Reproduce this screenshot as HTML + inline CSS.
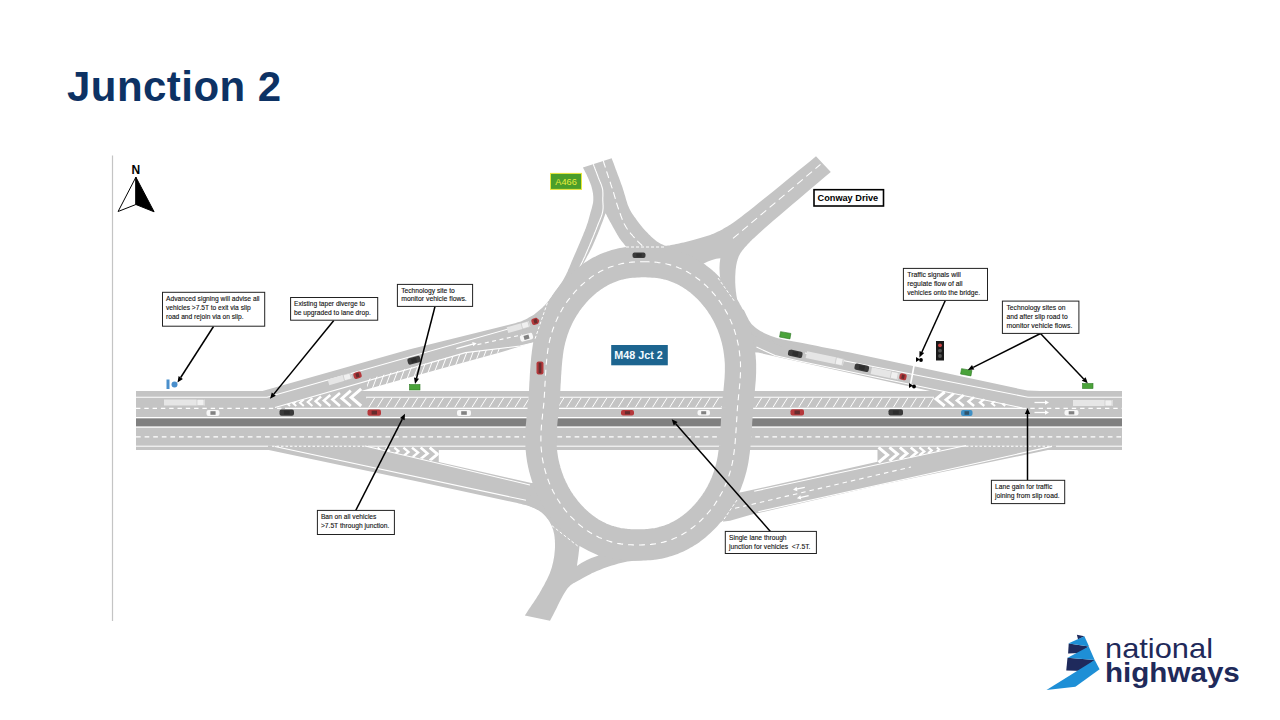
<!DOCTYPE html>
<html><head><meta charset="utf-8"><style>
html,body{margin:0;padding:0;background:#fff;}
body{width:1280px;height:720px;overflow:hidden;position:relative;font-family:"Liberation Sans",sans-serif;}
svg{position:absolute;left:0;top:0;font-family:"Liberation Sans",sans-serif;}
</style></head><body>
<svg width="1280" height="720" viewBox="0 0 1280 720">
<defs><clipPath id="c1"><path d="M366,397.6 H934 V407.6 H366Z"/></clipPath>
<clipPath id="cg1"><path d="M275,407.5 L366,381.2 L366,407.6Z"/></clipPath>
<clipPath id="cg2"><path d="M934,387.4 L1022.5,407.6 L934,407.6Z"/></clipPath>
<clipPath id="cg3"><path d="M365,446.8 L438.75,446.8 L438.75,462.2Z"/></clipPath>
<clipPath id="cg4"><path d="M877.3,446.8 L966,446.8 L877.3,464Z"/></clipPath>
<clipPath id="c3"><path d="M367,390.4 L367,379.3 L465.5,352.6 L502,348 L502,351.5Z"/></clipPath></defs>
<text x="67" y="100.5" font-weight="bold" font-size="42" fill="#0d3264" letter-spacing="0.45">Junction 2</text>
<line x1="112.5" y1="155.5" x2="112.5" y2="621" stroke="#c4c4c4" stroke-width="1.2"/>
<text x="135.8" y="173.8" font-weight="bold" font-size="12" text-anchor="middle" fill="#000">N</text>
<path d="M135.9,177.2 L118.1,211.5 L135.9,204.5Z" fill="#fff" stroke="#000" stroke-width="1"/>
<path d="M135.9,177.2 L154.1,211.8 L135.9,204.5Z" fill="#000" stroke="#000" stroke-width="1"/>
<rect x="136" y="391" width="986" height="59" fill="#c4c4c4"/><rect x="136" y="418.2" width="986" height="7.9" fill="#808080"/><path d="M262.5,391 L410,349.3 L510,324.5  L510.0,324.5 L511.0,324.2 L512.0,323.9 L513.0,323.7 L514.0,323.4 L515.0,323.2 L516.0,322.9 L517.0,322.6 L518.0,322.3 L519.0,322.0 L520.0,321.7 L521.0,321.4 L522.0,321.0 L523.0,320.6 L524.0,320.1 L524.9,319.7 L525.9,319.2 L526.9,318.7 L527.8,318.2 L528.8,317.6 L529.8,317.1 L530.7,316.6 L531.7,316.0 L532.6,315.5 L533.6,315.0 L552,318 L552,345 L533,342.5 L501.7,352 L400,380 L361,391Z" fill="#c4c4c4"/><path d="M268.75,450 L420,481.9 L515,502.5 L515.0,502.5 L516.3,502.8 L517.5,503.1 L518.8,503.4 L520.1,503.7 L521.4,504.0 L522.7,504.4 L523.9,504.7 L525.2,505.0 L526.4,505.3 L527.7,505.7 L528.8,506.1 L530.0,506.5 L531.0,506.9 L532.0,507.3 L533.0,507.7 L533.9,508.1 L534.8,508.5 L535.8,508.9 L536.7,509.4 L537.6,509.9 L538.5,510.3 L539.3,510.9 L540.2,511.4 L541.0,512.0 L541.8,512.6 L542.6,513.3 L543.4,514.0 L544.2,514.7 L544.9,515.5 L545.6,516.3 L546.4,517.1 L547.1,517.9 L547.8,518.7 L548.5,519.5 L549.3,520.2 L550.0,521.0 L560,480 L531.25,483.1 L438.75,461.9 L438.75,450Z" fill="#c4c4c4"/><path d="M735,305 L743.8,310.0 L744.5,311.3 L745.1,312.6 L745.8,313.9 L746.4,315.2 L747.0,316.5 L747.7,317.8 L748.3,319.1 L749.0,320.4 L749.8,321.6 L750.6,322.8 L751.5,323.9 L752.5,325.0 L753.7,326.1 L755.0,327.2 L756.3,328.3 L757.7,329.3 L759.2,330.2 L760.8,331.2 L762.4,332.1 L764.0,332.9 L765.7,333.7 L767.4,334.5 L769.2,335.3 L771.0,336.0 L773.3,336.8 L775.6,337.6 L778.0,338.2 L780.5,338.8 L783.1,339.4 L785.7,339.9 L788.4,340.4 L791.2,340.9 L793.9,341.4 L796.8,341.9 L799.6,342.4 L802.5,343.0 L806.1,343.8 L809.8,344.5 L813.7,345.3 L817.6,346.1 L821.6,346.9 L825.6,347.7 L829.7,348.5 L833.8,349.3 L837.9,350.1 L842.0,350.9 L846.0,351.7 L850.0,352.5 L1027.5,390.6 L1040,391 L930,391 L758,352.5 L742,352Z" fill="#c4c4c4"/><path d="M725,495 L742.5,492 L877.5,461.8 L877.5,450 L1048,450 L880,485 L751.7,514.6 Q740,518 730,520.8 L720,522Z" fill="#c4c4c4"/><line x1="136.0" y1="417.6" x2="1122.0" y2="417.6" stroke="#ffffff" stroke-width="1.1"/><line x1="136.0" y1="427.2" x2="1122.0" y2="427.2" stroke="#ffffff" stroke-width="1.1"/><line x1="136.0" y1="446.2" x2="1122.0" y2="446.2" stroke="#ffffff" stroke-width="1.0"/><line x1="136.0" y1="436.8" x2="1122.0" y2="436.8" stroke="#ffffff" stroke-width="1.3" stroke-dasharray="4.7,3.9"/><line x1="136.0" y1="397.2" x2="267.0" y2="397.2" stroke="#ffffff" stroke-width="1.1"/><line x1="366.0" y1="397.2" x2="934.0" y2="397.2" stroke="#ffffff" stroke-width="1.1"/><line x1="1028.0" y1="397.2" x2="1122.0" y2="397.2" stroke="#ffffff" stroke-width="1.1"/><line x1="136.0" y1="408.4" x2="285.0" y2="408.4" stroke="#ffffff" stroke-width="1.2" stroke-dasharray="4.4,3.9"/><line x1="285.0" y1="408.4" x2="1022.0" y2="408.4" stroke="#ffffff" stroke-width="1.1"/><line x1="1022.0" y1="408.4" x2="1122.0" y2="408.4" stroke="#ffffff" stroke-width="1.2" stroke-dasharray="4.4,3.9"/><rect x="268" y="445.4" width="100" height="1.6" fill="#c4c4c4"/><line x1="272.0" y1="446.2" x2="366.0" y2="446.2" stroke="#ffffff" stroke-width="1.1" stroke-dasharray="2.5,2"/><rect x="966" y="445.4" width="90" height="1.6" fill="#c4c4c4"/><line x1="966.0" y1="446.2" x2="1052.0" y2="446.2" stroke="#ffffff" stroke-width="1.1" stroke-dasharray="2.5,2"/><g clip-path="url(#c1)"><line x1="360.0" y1="407.6" x2="366.0" y2="398.0" stroke="#ffffff" stroke-width="1.0"/><line x1="368.6" y1="407.6" x2="374.6" y2="398.0" stroke="#ffffff" stroke-width="1.0"/><line x1="377.2" y1="407.6" x2="383.2" y2="398.0" stroke="#ffffff" stroke-width="1.0"/><line x1="385.8" y1="407.6" x2="391.8" y2="398.0" stroke="#ffffff" stroke-width="1.0"/><line x1="394.4" y1="407.6" x2="400.4" y2="398.0" stroke="#ffffff" stroke-width="1.0"/><line x1="403.0" y1="407.6" x2="409.0" y2="398.0" stroke="#ffffff" stroke-width="1.0"/><line x1="411.6" y1="407.6" x2="417.6" y2="398.0" stroke="#ffffff" stroke-width="1.0"/><line x1="420.2" y1="407.6" x2="426.2" y2="398.0" stroke="#ffffff" stroke-width="1.0"/><line x1="428.8" y1="407.6" x2="434.8" y2="398.0" stroke="#ffffff" stroke-width="1.0"/><line x1="437.4" y1="407.6" x2="443.4" y2="398.0" stroke="#ffffff" stroke-width="1.0"/><line x1="446.0" y1="407.6" x2="452.0" y2="398.0" stroke="#ffffff" stroke-width="1.0"/><line x1="454.6" y1="407.6" x2="460.6" y2="398.0" stroke="#ffffff" stroke-width="1.0"/><line x1="463.2" y1="407.6" x2="469.2" y2="398.0" stroke="#ffffff" stroke-width="1.0"/><line x1="471.8" y1="407.6" x2="477.8" y2="398.0" stroke="#ffffff" stroke-width="1.0"/><line x1="480.4" y1="407.6" x2="486.4" y2="398.0" stroke="#ffffff" stroke-width="1.0"/><line x1="489.0" y1="407.6" x2="495.0" y2="398.0" stroke="#ffffff" stroke-width="1.0"/><line x1="497.6" y1="407.6" x2="503.6" y2="398.0" stroke="#ffffff" stroke-width="1.0"/><line x1="506.2" y1="407.6" x2="512.2" y2="398.0" stroke="#ffffff" stroke-width="1.0"/><line x1="514.8" y1="407.6" x2="520.8" y2="398.0" stroke="#ffffff" stroke-width="1.0"/><line x1="523.4" y1="407.6" x2="529.4" y2="398.0" stroke="#ffffff" stroke-width="1.0"/><line x1="532.0" y1="407.6" x2="538.0" y2="398.0" stroke="#ffffff" stroke-width="1.0"/><line x1="540.6" y1="407.6" x2="546.6" y2="398.0" stroke="#ffffff" stroke-width="1.0"/><line x1="549.2" y1="407.6" x2="555.2" y2="398.0" stroke="#ffffff" stroke-width="1.0"/><line x1="557.8" y1="407.6" x2="563.8" y2="398.0" stroke="#ffffff" stroke-width="1.0"/><line x1="566.4" y1="407.6" x2="572.4" y2="398.0" stroke="#ffffff" stroke-width="1.0"/><line x1="575.0" y1="407.6" x2="581.0" y2="398.0" stroke="#ffffff" stroke-width="1.0"/><line x1="583.6" y1="407.6" x2="589.6" y2="398.0" stroke="#ffffff" stroke-width="1.0"/><line x1="592.2" y1="407.6" x2="598.2" y2="398.0" stroke="#ffffff" stroke-width="1.0"/><line x1="600.8" y1="407.6" x2="606.8" y2="398.0" stroke="#ffffff" stroke-width="1.0"/><line x1="609.4" y1="407.6" x2="615.4" y2="398.0" stroke="#ffffff" stroke-width="1.0"/><line x1="618.0" y1="407.6" x2="624.0" y2="398.0" stroke="#ffffff" stroke-width="1.0"/><line x1="626.6" y1="407.6" x2="632.6" y2="398.0" stroke="#ffffff" stroke-width="1.0"/><line x1="635.2" y1="407.6" x2="641.2" y2="398.0" stroke="#ffffff" stroke-width="1.0"/><line x1="643.8" y1="407.6" x2="649.8" y2="398.0" stroke="#ffffff" stroke-width="1.0"/><line x1="652.4" y1="407.6" x2="658.4" y2="398.0" stroke="#ffffff" stroke-width="1.0"/><line x1="661.0" y1="407.6" x2="667.0" y2="398.0" stroke="#ffffff" stroke-width="1.0"/><line x1="669.6" y1="407.6" x2="675.6" y2="398.0" stroke="#ffffff" stroke-width="1.0"/><line x1="678.2" y1="407.6" x2="684.2" y2="398.0" stroke="#ffffff" stroke-width="1.0"/><line x1="686.8" y1="407.6" x2="692.8" y2="398.0" stroke="#ffffff" stroke-width="1.0"/><line x1="695.4" y1="407.6" x2="701.4" y2="398.0" stroke="#ffffff" stroke-width="1.0"/><line x1="704.0" y1="407.6" x2="710.0" y2="398.0" stroke="#ffffff" stroke-width="1.0"/><line x1="712.6" y1="407.6" x2="718.6" y2="398.0" stroke="#ffffff" stroke-width="1.0"/><line x1="721.2" y1="407.6" x2="727.2" y2="398.0" stroke="#ffffff" stroke-width="1.0"/><line x1="729.8" y1="407.6" x2="735.8" y2="398.0" stroke="#ffffff" stroke-width="1.0"/><line x1="738.4" y1="407.6" x2="744.4" y2="398.0" stroke="#ffffff" stroke-width="1.0"/><line x1="747.0" y1="407.6" x2="753.0" y2="398.0" stroke="#ffffff" stroke-width="1.0"/><line x1="755.6" y1="407.6" x2="761.6" y2="398.0" stroke="#ffffff" stroke-width="1.0"/><line x1="764.2" y1="407.6" x2="770.2" y2="398.0" stroke="#ffffff" stroke-width="1.0"/><line x1="772.8" y1="407.6" x2="778.8" y2="398.0" stroke="#ffffff" stroke-width="1.0"/><line x1="781.4" y1="407.6" x2="787.4" y2="398.0" stroke="#ffffff" stroke-width="1.0"/><line x1="790.0" y1="407.6" x2="796.0" y2="398.0" stroke="#ffffff" stroke-width="1.0"/><line x1="798.6" y1="407.6" x2="804.6" y2="398.0" stroke="#ffffff" stroke-width="1.0"/><line x1="807.2" y1="407.6" x2="813.2" y2="398.0" stroke="#ffffff" stroke-width="1.0"/><line x1="815.8" y1="407.6" x2="821.8" y2="398.0" stroke="#ffffff" stroke-width="1.0"/><line x1="824.4" y1="407.6" x2="830.4" y2="398.0" stroke="#ffffff" stroke-width="1.0"/><line x1="833.0" y1="407.6" x2="839.0" y2="398.0" stroke="#ffffff" stroke-width="1.0"/><line x1="841.6" y1="407.6" x2="847.6" y2="398.0" stroke="#ffffff" stroke-width="1.0"/><line x1="850.2" y1="407.6" x2="856.2" y2="398.0" stroke="#ffffff" stroke-width="1.0"/><line x1="858.8" y1="407.6" x2="864.8" y2="398.0" stroke="#ffffff" stroke-width="1.0"/><line x1="867.4" y1="407.6" x2="873.4" y2="398.0" stroke="#ffffff" stroke-width="1.0"/><line x1="876.0" y1="407.6" x2="882.0" y2="398.0" stroke="#ffffff" stroke-width="1.0"/><line x1="884.6" y1="407.6" x2="890.6" y2="398.0" stroke="#ffffff" stroke-width="1.0"/><line x1="893.2" y1="407.6" x2="899.2" y2="398.0" stroke="#ffffff" stroke-width="1.0"/><line x1="901.8" y1="407.6" x2="907.8" y2="398.0" stroke="#ffffff" stroke-width="1.0"/><line x1="910.4" y1="407.6" x2="916.4" y2="398.0" stroke="#ffffff" stroke-width="1.0"/><line x1="919.0" y1="407.6" x2="925.0" y2="398.0" stroke="#ffffff" stroke-width="1.0"/><line x1="927.6" y1="407.6" x2="933.6" y2="398.0" stroke="#ffffff" stroke-width="1.0"/><line x1="936.2" y1="407.6" x2="942.2" y2="398.0" stroke="#ffffff" stroke-width="1.0"/></g><line x1="267.0" y1="397.2" x2="517.0" y2="326.5" stroke="#ffffff" stroke-width="1.1"/><line x1="273.0" y1="395.8" x2="515.0" y2="327.5" stroke="#ffffff" stroke-width="0.01"/><path d="M275,407.5 L465.5,352.6 L520,346 L533,343" fill="none" stroke="#ffffff" stroke-width="1.1"/><line x1="477.5" y1="344.6" x2="522.0" y2="334.8" stroke="#ffffff" stroke-width="1.1" stroke-dasharray="4,3.5"/><line x1="361.0" y1="391.0" x2="533.0" y2="342.5" stroke="#ffffff" stroke-width="0"/><g clip-path="url(#c3)"><line x1="340.0" y1="392.0" x2="358.0" y2="345.0" stroke="#ffffff" stroke-width="1.0"/><line x1="346.2" y1="392.0" x2="364.2" y2="345.0" stroke="#ffffff" stroke-width="1.0"/><line x1="352.4" y1="392.0" x2="370.4" y2="345.0" stroke="#ffffff" stroke-width="1.0"/><line x1="358.6" y1="392.0" x2="376.6" y2="345.0" stroke="#ffffff" stroke-width="1.0"/><line x1="364.8" y1="392.0" x2="382.8" y2="345.0" stroke="#ffffff" stroke-width="1.0"/><line x1="371.0" y1="392.0" x2="389.0" y2="345.0" stroke="#ffffff" stroke-width="1.0"/><line x1="377.2" y1="392.0" x2="395.2" y2="345.0" stroke="#ffffff" stroke-width="1.0"/><line x1="383.4" y1="392.0" x2="401.4" y2="345.0" stroke="#ffffff" stroke-width="1.0"/><line x1="389.6" y1="392.0" x2="407.6" y2="345.0" stroke="#ffffff" stroke-width="1.0"/><line x1="395.8" y1="392.0" x2="413.8" y2="345.0" stroke="#ffffff" stroke-width="1.0"/><line x1="402.0" y1="392.0" x2="420.0" y2="345.0" stroke="#ffffff" stroke-width="1.0"/><line x1="408.2" y1="392.0" x2="426.2" y2="345.0" stroke="#ffffff" stroke-width="1.0"/><line x1="414.4" y1="392.0" x2="432.4" y2="345.0" stroke="#ffffff" stroke-width="1.0"/><line x1="420.6" y1="392.0" x2="438.6" y2="345.0" stroke="#ffffff" stroke-width="1.0"/><line x1="426.8" y1="392.0" x2="444.8" y2="345.0" stroke="#ffffff" stroke-width="1.0"/><line x1="433.0" y1="392.0" x2="451.0" y2="345.0" stroke="#ffffff" stroke-width="1.0"/><line x1="439.2" y1="392.0" x2="457.2" y2="345.0" stroke="#ffffff" stroke-width="1.0"/><line x1="445.4" y1="392.0" x2="463.4" y2="345.0" stroke="#ffffff" stroke-width="1.0"/><line x1="451.6" y1="392.0" x2="469.6" y2="345.0" stroke="#ffffff" stroke-width="1.0"/><line x1="457.8" y1="392.0" x2="475.8" y2="345.0" stroke="#ffffff" stroke-width="1.0"/><line x1="464.0" y1="392.0" x2="482.0" y2="345.0" stroke="#ffffff" stroke-width="1.0"/><line x1="470.2" y1="392.0" x2="488.2" y2="345.0" stroke="#ffffff" stroke-width="1.0"/><line x1="476.4" y1="392.0" x2="494.4" y2="345.0" stroke="#ffffff" stroke-width="1.0"/><line x1="482.6" y1="392.0" x2="500.6" y2="345.0" stroke="#ffffff" stroke-width="1.0"/><line x1="488.8" y1="392.0" x2="506.8" y2="345.0" stroke="#ffffff" stroke-width="1.0"/><line x1="495.0" y1="392.0" x2="513.0" y2="345.0" stroke="#ffffff" stroke-width="1.0"/><line x1="501.2" y1="392.0" x2="519.2" y2="345.0" stroke="#ffffff" stroke-width="1.0"/><line x1="507.4" y1="392.0" x2="525.4" y2="345.0" stroke="#ffffff" stroke-width="1.0"/><line x1="513.6" y1="392.0" x2="531.6" y2="345.0" stroke="#ffffff" stroke-width="1.0"/></g><line x1="805.0" y1="353.0" x2="1028.0" y2="397.2" stroke="#ffffff" stroke-width="1.1"/><path d="M756.5,347 L775,355.6 L800,361.25 L1022.5,408" fill="none" stroke="#ffffff" stroke-width="1.1"/><line x1="275.0" y1="446.5" x2="526.0" y2="500.3" stroke="#ffffff" stroke-width="1.1"/><line x1="365.0" y1="446.0" x2="530.0" y2="485.0" stroke="#ffffff" stroke-width="1.1"/><line x1="754.2" y1="491.2" x2="966.0" y2="445.5" stroke="#ffffff" stroke-width="1.1"/><line x1="758.3" y1="511.7" x2="1052.0" y2="446.4" stroke="#ffffff" stroke-width="1.1"/><line x1="735.0" y1="508.3" x2="911.0" y2="467.0" stroke="#ffffff" stroke-width="1.1" stroke-dasharray="4.5,4"/><g clip-path="url(#cg1)"><path d="M290.0,402.5 L288.0,404.2 L290.0,406.0" fill="none" stroke="#ffffff" stroke-width="1.81" stroke-linejoin="miter" stroke-miterlimit="10"/><path d="M296.3,401.0 L293.4,403.5 L296.3,406.0" fill="none" stroke="#ffffff" stroke-width="1.95" stroke-linejoin="miter" stroke-miterlimit="10"/><path d="M303.8,399.5 L300.0,402.8 L303.8,406.0" fill="none" stroke="#ffffff" stroke-width="2.08" stroke-linejoin="miter" stroke-miterlimit="10"/><path d="M312.4,398.0 L307.8,402.0 L312.4,406.0" fill="none" stroke="#ffffff" stroke-width="2.22" stroke-linejoin="miter" stroke-miterlimit="10"/><path d="M321.1,396.5 L315.6,401.2 L321.1,406.0" fill="none" stroke="#ffffff" stroke-width="2.35" stroke-linejoin="miter" stroke-miterlimit="10"/><path d="M330.3,395.0 L323.9,400.5 L330.3,406.0" fill="none" stroke="#ffffff" stroke-width="2.49" stroke-linejoin="miter" stroke-miterlimit="10"/><path d="M340.0,393.1 L332.5,399.6 L340.0,406.0" fill="none" stroke="#ffffff" stroke-width="2.66" stroke-linejoin="miter" stroke-miterlimit="10"/><path d="M350.8,390.7 L341.9,398.4 L350.8,406.0" fill="none" stroke="#ffffff" stroke-width="2.88" stroke-linejoin="miter" stroke-miterlimit="10"/><path d="M361.2,388.8 L351.2,397.4 L361.2,406.0" fill="none" stroke="#ffffff" stroke-width="3.05" stroke-linejoin="miter" stroke-miterlimit="10"/></g><g clip-path="url(#cg2)"><path d="M944.7,392.0 L936.0,399.0 L944.7,406.0" fill="none" stroke="#ffffff" stroke-width="3.00" stroke-linejoin="miter" stroke-miterlimit="10"/><path d="M953.8,393.5 L946.0,399.8 L953.8,406.0" fill="none" stroke="#ffffff" stroke-width="2.85" stroke-linejoin="miter" stroke-miterlimit="10"/><path d="M963.8,395.0 L957.0,400.5 L963.8,406.0" fill="none" stroke="#ffffff" stroke-width="2.70" stroke-linejoin="miter" stroke-miterlimit="10"/><path d="M974.1,397.0 L968.5,401.5 L974.1,406.0" fill="none" stroke="#ffffff" stroke-width="2.50" stroke-linejoin="miter" stroke-miterlimit="10"/><path d="M984.3,399.0 L980.0,402.5 L984.3,406.0" fill="none" stroke="#ffffff" stroke-width="2.30" stroke-linejoin="miter" stroke-miterlimit="10"/><path d="M995.1,401.0 L992.0,403.5 L995.1,406.0" fill="none" stroke="#ffffff" stroke-width="2.10" stroke-linejoin="miter" stroke-miterlimit="10"/><path d="M1005.2,402.5 L1003.0,404.2 L1005.2,406.0" fill="none" stroke="#ffffff" stroke-width="1.95" stroke-linejoin="miter" stroke-miterlimit="10"/></g><g clip-path="url(#cg3)"><path d="M377.6,447.6 L380.0,449.6 L377.6,451.6" fill="none" stroke="#ffffff" stroke-width="1.90" stroke-linejoin="miter" stroke-miterlimit="10"/><path d="M385.7,447.6 L389.0,450.4 L385.7,453.1" fill="none" stroke="#ffffff" stroke-width="2.05" stroke-linejoin="miter" stroke-miterlimit="10"/><path d="M394.3,447.6 L398.5,451.1 L394.3,454.6" fill="none" stroke="#ffffff" stroke-width="2.20" stroke-linejoin="miter" stroke-miterlimit="10"/><path d="M403.4,447.6 L408.5,451.9 L403.4,456.1" fill="none" stroke="#ffffff" stroke-width="2.35" stroke-linejoin="miter" stroke-miterlimit="10"/><path d="M412.0,447.6 L418.0,452.6 L412.0,457.6" fill="none" stroke="#ffffff" stroke-width="2.50" stroke-linejoin="miter" stroke-miterlimit="10"/><path d="M420.6,447.6 L427.5,453.4 L420.6,459.1" fill="none" stroke="#ffffff" stroke-width="2.65" stroke-linejoin="miter" stroke-miterlimit="10"/><path d="M429.7,447.6 L437.5,454.1 L429.7,460.6" fill="none" stroke="#ffffff" stroke-width="2.80" stroke-linejoin="miter" stroke-miterlimit="10"/></g><g clip-path="url(#cg4)"><path d="M878.5,447.4 L887.5,454.9 L878.5,462.4" fill="none" stroke="#ffffff" stroke-width="3.10" stroke-linejoin="miter" stroke-miterlimit="10"/><path d="M889.4,447.4 L897.5,454.1 L889.4,460.9" fill="none" stroke="#ffffff" stroke-width="2.95" stroke-linejoin="miter" stroke-miterlimit="10"/><path d="M899.8,447.4 L907.0,453.4 L899.8,459.4" fill="none" stroke="#ffffff" stroke-width="2.80" stroke-linejoin="miter" stroke-miterlimit="10"/><path d="M910.7,447.4 L916.7,452.4 L910.7,457.4" fill="none" stroke="#ffffff" stroke-width="2.60" stroke-linejoin="miter" stroke-miterlimit="10"/><path d="M919.4,447.4 L924.2,451.4 L919.4,455.4" fill="none" stroke="#ffffff" stroke-width="2.40" stroke-linejoin="miter" stroke-miterlimit="10"/><path d="M928.1,447.4 L931.7,450.4 L928.1,453.4" fill="none" stroke="#ffffff" stroke-width="2.20" stroke-linejoin="miter" stroke-miterlimit="10"/><path d="M936.8,447.4 L939.2,449.4 L936.8,451.4" fill="none" stroke="#ffffff" stroke-width="2.00" stroke-linejoin="miter" stroke-miterlimit="10"/></g><path d="M1034.5,402.5 H1046.0" stroke="#ffffff" stroke-width="1.3"/><path d="M1045.0,400.3 L1049.0,402.5 L1045.0,404.7Z" fill="#ffffff"/><path d="M1034.5,412.5 H1046.0" stroke="#ffffff" stroke-width="1.3"/><path d="M1045.0,410.3 L1049.0,412.5 L1045.0,414.7Z" fill="#ffffff"/><g transform="rotate(-12 797 489)"><path d="M805,489 H796" stroke="#ffffff" stroke-width="1.3"/><path d="M797,486.8 L793,489 L797,491.2Z" fill="#ffffff"/><path d="M807,498 H798" stroke="#ffffff" stroke-width="1.3"/><path d="M799,495.8 L795,498 L799,500.2Z" fill="#ffffff"/></g><g transform="rotate(-15 466 346)"><path d="M456,346 H474" stroke="#ffffff" stroke-width="1.3"/><path d="M473,343.8 L477,346 L473,348.2Z" fill="#ffffff"/></g><g><rect x="164.0" y="399.5" width="41.0" height="6.0" fill="#e6e6e6"/><rect x="197.0" y="399.5" width="7" height="6.0" fill="#f0f0f0" stroke="#bbb" stroke-width="0.5"/></g><g><rect x="1073.0" y="400.0" width="40.0" height="6.0" fill="#e6e6e6"/><rect x="1105.0" y="400.0" width="7" height="6.0" fill="#f0f0f0" stroke="#bbb" stroke-width="0.5"/></g><g><rect x="206.5" y="410.0" width="13.0" height="6.0" rx="2" fill="#f7f7f7"/><rect x="210.4" y="411.2" width="5.2" height="3.6" fill="#222" opacity="0.55"/></g><g><rect x="279.5" y="409.5" width="14.5" height="6.2" rx="2" fill="#3a3a3a"/><rect x="283.9" y="410.7" width="5.8" height="3.8" fill="#222" opacity="0.55"/></g><g><rect x="367.5" y="409.5" width="13.5" height="6.2" rx="2" fill="#b5383b"/><rect x="371.6" y="410.7" width="5.4" height="3.8" fill="#222" opacity="0.55"/></g><g><rect x="457.0" y="410.0" width="14.0" height="6.0" rx="2" fill="#f7f7f7"/><rect x="461.2" y="411.2" width="5.6" height="3.6" fill="#222" opacity="0.55"/></g><g><rect x="621.0" y="410.0" width="13.0" height="5.5" rx="2" fill="#b5383b"/><rect x="624.9" y="411.2" width="5.2" height="3.1" fill="#222" opacity="0.55"/></g><g><rect x="697.5" y="410.0" width="12.5" height="5.5" rx="2" fill="#f7f7f7"/><rect x="701.2" y="411.2" width="5.0" height="3.1" fill="#222" opacity="0.55"/></g><g><rect x="790.5" y="409.3" width="13.5" height="6.2" rx="2" fill="#b5383b"/><rect x="794.5" y="410.5" width="5.4" height="3.8" fill="#222" opacity="0.55"/></g><g><rect x="888.5" y="409.3" width="14.5" height="6.2" rx="2" fill="#3a3a3a"/><rect x="892.9" y="410.5" width="5.8" height="3.8" fill="#222" opacity="0.55"/></g><g><rect x="961.0" y="410.0" width="11.5" height="6.0" rx="2" fill="#3f8fc4"/><rect x="964.5" y="411.2" width="4.6" height="3.6" fill="#222" opacity="0.55"/></g><g><rect x="1064.5" y="410.0" width="14.0" height="5.6" rx="2" fill="#f7f7f7"/><rect x="1068.7" y="411.2" width="5.6" height="3.2" fill="#222" opacity="0.55"/></g><g transform="rotate(-16 340.0 379.0)"><rect x="328.0" y="376.0" width="24.0" height="6.0" fill="#e6e6e6"/><rect x="344.0" y="376.0" width="7" height="6.0" fill="#f0f0f0" stroke="#bbb" stroke-width="0.5"/></g><g transform="rotate(-16 357.5 375.2)"><rect x="353.5" y="372.0" width="8.0" height="6.5" rx="2" fill="#b5383b"/><rect x="355.9" y="373.2" width="3.2" height="4.1" fill="#222" opacity="0.55"/></g><g transform="rotate(-16 414.0 360.2)"><rect x="407.5" y="357.0" width="13.0" height="6.5" rx="2" fill="#3a3a3a"/><rect x="411.4" y="358.2" width="5.2" height="4.1" fill="#222" opacity="0.55"/></g><g transform="rotate(-16 518.5 327.0)"><rect x="507.0" y="324.0" width="23.0" height="6.0" fill="#e6e6e6"/><rect x="522.0" y="324.0" width="7" height="6.0" fill="#f0f0f0" stroke="#bbb" stroke-width="0.5"/></g><g transform="rotate(-16 535.5 321.2)"><rect x="531.5" y="318.0" width="8.0" height="6.5" rx="2" fill="#b5383b"/><rect x="533.9" y="319.2" width="3.2" height="4.1" fill="#222" opacity="0.55"/></g><g transform="rotate(-16 526.5 337.2)"><rect x="520.0" y="334.0" width="13.0" height="6.5" rx="2" fill="#f7f7f7"/><rect x="523.9" y="335.2" width="5.2" height="4.1" fill="#222" opacity="0.55"/></g><g><rect x="536.5" y="361.5" width="7.0" height="13.0" rx="2" fill="#b5383b"/><rect x="538.6" y="362.7" width="2.8" height="10.6" fill="#222" opacity="0.55"/></g><g><rect x="632.5" y="252.4" width="13.0" height="5.5" rx="2" fill="#3a3a3a"/><rect x="636.4" y="253.6" width="5.2" height="3.1" fill="#222" opacity="0.55"/></g><g transform="rotate(12 795.2 353.8)"><rect x="788.0" y="350.5" width="14.5" height="6.5" rx="2" fill="#3a3a3a"/><rect x="792.4" y="351.7" width="5.8" height="4.1" fill="#222" opacity="0.55"/></g><g transform="rotate(12 825.0 358.5)"><rect x="806.0" y="355.0" width="38.0" height="7.0" fill="#e6e6e6"/><rect x="836.0" y="355.0" width="7" height="7.0" fill="#f0f0f0" stroke="#bbb" stroke-width="0.5"/></g><g transform="rotate(12 861.8 367.8)"><rect x="854.5" y="364.5" width="14.5" height="6.5" rx="2" fill="#3a3a3a"/><rect x="858.9" y="365.7" width="5.8" height="4.1" fill="#222" opacity="0.55"/></g><g transform="rotate(12 885.0 373.5)"><rect x="871.0" y="370.0" width="28.0" height="7.0" fill="#e6e6e6"/><rect x="891.0" y="370.0" width="7" height="7.0" fill="#f0f0f0" stroke="#bbb" stroke-width="0.5"/></g><g transform="rotate(12 903.0 376.8)"><rect x="899.5" y="373.5" width="7.0" height="6.5" rx="2" fill="#b5383b"/><rect x="901.6" y="374.7" width="2.8" height="4.1" fill="#222" opacity="0.55"/></g><rect x="409.5" y="384.5" width="10.5" height="5.5" fill="#4aa33a" stroke="#2f7a25" stroke-width="0.6"/><rect x="780" y="332.5" width="10.5" height="5.5" fill="#4aa33a" stroke="#2f7a25" stroke-width="0.6" transform="rotate(10 785.2 335.2)"/><rect x="961" y="369.5" width="10.5" height="5.5" fill="#4aa33a" stroke="#2f7a25" stroke-width="0.6" transform="rotate(10 966.2 372.2)"/><rect x="1082.5" y="383.5" width="10.5" height="5" fill="#4aa33a" stroke="#2f7a25" stroke-width="0.6"/>
<path d="M582.9,167.5 L611.7,158.3 L612.1,159.4 L612.5,160.5 L612.9,161.6 L613.4,162.7 L613.8,163.8 L614.2,164.9 L614.6,166.0 L615.0,167.2 L615.4,168.3 L615.8,169.4 L616.3,170.5 L616.7,171.7 L617.2,173.0 L617.6,174.2 L618.1,175.5 L618.6,176.8 L619.1,178.1 L619.6,179.4 L620.1,180.7 L620.5,182.0 L621.0,183.4 L621.5,184.7 L622.0,186.1 L622.5,187.5 L623.0,189.2 L623.6,190.9 L624.1,192.7 L624.6,194.5 L625.2,196.3 L625.7,198.2 L626.2,200.0 L626.8,201.8 L627.3,203.6 L627.9,205.2 L628.6,206.8 L629.2,208.3 L629.7,209.3 L630.2,210.3 L630.8,211.3 L631.3,212.2 L631.8,213.1 L632.4,213.9 L633.0,214.8 L633.5,215.6 L634.1,216.4 L634.7,217.3 L635.4,218.1 L636.0,219.0 L636.7,220.0 L637.4,221.0 L638.2,222.0 L638.9,223.0 L639.7,224.0 L640.5,225.0 L641.3,226.1 L642.1,227.1 L642.9,228.1 L643.8,229.1 L644.7,230.0 L645.6,231.0 L646.6,232.1 L647.7,233.1 L648.7,234.2 L649.9,235.3 L651.0,236.4 L652.1,237.5 L653.3,238.5 L654.5,239.5 L655.7,240.5 L656.9,241.4 L658.2,242.2 L659.4,243.0 L660.6,243.7 L661.8,244.3 L663.1,244.8 L664.3,245.4 L665.6,245.8 L666.9,246.3 L668.2,246.7 L669.5,247.1 L670.8,247.5 L672.1,247.8 L673.4,248.2 L674.7,248.5 L676.0,248.8 L677.2,249.1 L678.5,249.3 L679.8,249.5 L681.0,249.7 L682.3,249.9 L683.6,250.1 L684.9,250.3 L686.2,250.4 L687.4,250.6 L688.7,250.8 L690.0,251.0 L690,275 L600,275 L550,330 L533.6,315 L533.6,315.0 L534.5,314.2 L535.4,313.5 L536.3,312.7 L537.2,312.0 L538.1,311.3 L539.0,310.5 L539.9,309.8 L540.8,309.0 L541.7,308.2 L542.6,307.4 L543.4,306.6 L544.3,305.7 L545.2,304.7 L546.2,303.6 L547.1,302.5 L548.0,301.4 L548.9,300.3 L549.8,299.1 L550.7,297.9 L551.6,296.7 L552.4,295.6 L553.3,294.4 L554.2,293.2 L555.0,292.0 L555.8,290.8 L556.7,289.7 L557.5,288.6 L558.3,287.4 L559.1,286.3 L559.9,285.1 L560.6,284.0 L561.4,282.8 L562.2,281.6 L562.9,280.4 L563.7,279.1 L564.4,277.8 L565.2,276.3 L566.0,274.7 L566.8,273.0 L567.6,271.4 L568.3,269.6 L569.1,267.9 L569.8,266.2 L570.5,264.4 L571.2,262.7 L571.9,261.0 L572.6,259.4 L573.3,257.8 L573.9,256.4 L574.5,255.1 L575.1,253.8 L575.6,252.5 L576.2,251.2 L576.7,249.9 L577.3,248.6 L577.8,247.4 L578.4,246.1 L578.9,244.8 L579.5,243.5 L580.0,242.2 L580.6,240.8 L581.2,239.4 L581.8,238.0 L582.4,236.6 L583.0,235.2 L583.5,233.7 L584.1,232.3 L584.7,230.9 L585.2,229.6 L585.8,228.2 L586.2,226.9 L586.7,225.6 L587.0,224.6 L587.4,223.6 L587.7,222.7 L588.0,221.8 L588.2,220.9 L588.5,220.0 L588.7,219.1 L589.0,218.2 L589.2,217.3 L589.5,216.3 L589.7,215.4 L590.0,214.4 L590.3,213.3 L590.6,212.1 L591.0,210.9 L591.3,209.7 L591.7,208.5 L592.0,207.3 L592.3,206.0 L592.6,204.8 L592.9,203.6 L593.1,202.4 L593.2,201.2 L593.3,200.0 L593.3,198.9 L593.3,197.9 L593.3,196.8 L593.2,195.7 L593.1,194.7 L593.0,193.6 L592.8,192.6 L592.6,191.5 L592.4,190.5 L592.2,189.5 L591.9,188.5 L591.7,187.5 L591.4,186.6 L591.2,185.6 L590.8,184.7 L590.5,183.8 L590.2,182.9 L589.8,182.0 L589.4,181.1 L589.0,180.2 L588.7,179.3 L588.3,178.4 L587.9,177.6 L587.5,176.7 L587.1,175.9 L586.8,175.1 L586.4,174.3 L586.0,173.6 L585.6,172.8 L585.2,172.0 L584.8,171.3 L584.5,170.5 L584.1,169.8 L583.7,169.0 L583.3,168.3 L582.9,167.5Z" fill="#c4c4c4"/><path d="M605.6,213.3 L605.6,213.3 L605.0,214.8 L604.5,216.3 L603.9,217.7 L603.4,219.2 L602.9,220.7 L602.3,222.2 L601.8,223.6 L601.2,225.1 L600.6,226.6 L600.1,228.1 L599.5,229.5 L598.9,231.0 L598.3,232.5 L597.7,234.0 L597.0,235.5 L596.4,237.0 L595.8,238.5 L595.1,240.0 L594.5,241.5 L593.8,243.0 L593.2,244.5 L592.5,246.0 L591.8,247.4 L591.1,248.9 L590.4,250.3 L589.7,251.8 L588.9,253.2 L588.1,254.7 L587.3,256.1 L586.6,257.5 L585.8,259.0 L585.0,260.4 L584.3,261.7 L583.6,263.0 L582.9,264.3 L582.2,265.6 L581.7,266.5 L581.2,267.5 L580.8,268.4 L580.4,269.2 L579.9,270.1 L579.5,270.9 L579.1,271.8 L578.7,272.6 L578.3,273.5 L577.8,274.3 L577.4,275.1 L577.0,276.0 L640.0,268.0 L638.9,266.3 L637.8,264.6 L636.7,262.8 L635.5,261.0 L634.4,259.2 L633.3,257.4 L632.2,255.7 L631.1,254.0 L630.0,252.3 L629.0,250.8 L628.0,249.3 L627.0,247.9 L626.4,247.0 L625.7,246.2 L625.1,245.4 L624.5,244.7 L624.0,244.0 L623.4,243.3 L622.8,242.6 L622.3,241.9 L621.7,241.2 L621.1,240.5 L620.6,239.7 L620.0,238.9 L619.3,237.9 L618.7,236.9 L618.0,235.8 L617.3,234.7 L616.7,233.6 L616.0,232.4 L615.4,231.3 L614.7,230.1 L614.1,229.0 L613.4,227.8 L612.8,226.7 L612.2,225.6 L611.6,224.6 L611.1,223.5 L610.5,222.5 L609.9,221.5 L609.4,220.5 L608.8,219.4 L608.3,218.4 L607.8,217.4 L607.2,216.4 L606.7,215.3 L606.1,214.3 L605.6,213.3Z" fill="#ffffff"/><path d="M593.3,164.2 L593.7,165.3 L594.1,166.4 L594.6,167.5 L595.0,168.7 L595.4,169.8 L595.8,170.9 L596.3,172.0 L596.7,173.1 L597.1,174.2 L597.5,175.3 L597.9,176.4 L598.3,177.5 L598.7,178.5 L599.1,179.5 L599.5,180.4 L599.9,181.4 L600.3,182.3 L600.7,183.3 L601.1,184.2 L601.4,185.2 L601.7,186.1 L602.0,187.1 L602.3,188.0 L602.5,189.0 L602.7,189.9 L602.8,190.8 L602.8,191.7 L602.9,192.7 L602.9,193.6 L602.9,194.5 L602.9,195.4 L602.9,196.3 L602.8,197.2 L602.8,198.2 L602.8,199.1 L602.8,200.0 L602.8,200.9 L602.9,201.8 L602.9,202.7 L603.0,203.6 L603.0,204.5 L603.1,205.4 L603.1,206.3 L603.1,207.2 L603.1,208.1 L603.0,209.1 L602.9,210.0 L602.8,211.0 L602.5,212.3 L602.2,213.6 L601.8,215.0 L601.3,216.4 L600.8,217.8 L600.2,219.2 L599.6,220.7 L599.0,222.1 L598.4,223.5 L597.8,225.0 L597.3,226.4 L596.7,227.8 L596.2,229.2 L595.6,230.6 L595.1,232.0 L594.5,233.3 L594.0,234.7 L593.4,236.1 L592.9,237.5 L592.3,238.8 L591.7,240.2 L591.2,241.6 L590.6,243.0 L590.0,244.4 L589.4,245.9 L588.7,247.4 L588.1,248.9 L587.4,250.5 L586.8,252.1 L586.1,253.6 L585.4,255.1 L584.8,256.7 L584.1,258.1 L583.4,259.5 L582.8,260.9 L582.2,262.2 L581.7,263.1 L581.3,264.0 L580.9,264.9 L580.4,265.7 L580.0,266.5 L579.6,267.3 L579.1,268.1 L578.7,268.8 L578.3,269.6 L577.9,270.4 L577.4,271.2 L577.0,272.0" fill="none" stroke="#ffffff" stroke-width="1.1"/><path d="M603.3,160.8 L603.7,162.1 L604.1,163.5 L604.5,164.8 L605.0,166.1 L605.4,167.5 L605.8,168.8 L606.2,170.1 L606.6,171.4 L607.0,172.8 L607.5,174.1 L607.9,175.4 L608.3,176.7 L608.7,178.0 L609.1,179.2 L609.5,180.5 L610.0,181.7 L610.4,182.9 L610.8,184.2 L611.2,185.4 L611.6,186.7 L612.1,187.9 L612.5,189.2 L612.9,190.4 L613.3,191.7 L613.7,193.0 L614.1,194.4 L614.5,195.8 L614.9,197.1 L615.3,198.5 L615.7,199.9 L616.1,201.3 L616.5,202.7 L616.9,204.1 L617.4,205.5 L617.8,206.9 L618.3,208.3 L618.8,209.8 L619.4,211.3 L619.9,212.9 L620.5,214.5 L621.0,216.0 L621.6,217.6 L622.2,219.2 L622.8,220.7 L623.5,222.2 L624.2,223.7 L624.9,225.1 L625.7,226.5 L626.5,227.8 L627.3,229.0 L628.2,230.2 L629.1,231.5 L630.0,232.6 L631.0,233.8 L632.0,234.9 L632.9,236.0 L633.9,237.1 L634.8,238.1 L635.7,239.1 L636.5,240.0 L637.1,240.6 L637.7,241.2 L638.2,241.8 L638.8,242.4 L639.3,242.9 L639.8,243.4 L640.4,243.9 L640.9,244.4 L641.4,244.9 L641.9,245.4 L642.5,246.0 L643.0,246.5" fill="none" stroke="#ffffff" stroke-width="1.1" stroke-dasharray="7,4"/><path d="M816,156.3 L830.8,171.9 L824.7,177.1 L818.3,182.5 L811.7,188.1 L805.0,193.8 L798.3,199.5 L791.7,205.1 L785.3,210.6 L779.2,215.8 L773.5,220.6 L768.4,225.1 L763.8,229.1 L760.0,232.5 L758.6,233.8 L757.3,234.9 L756.2,236.0 L755.1,237.0 L754.1,237.9 L753.1,238.8 L752.2,239.6 L751.4,240.5 L750.5,241.3 L749.7,242.2 L748.9,243.1 L748.0,244.0 L747.2,244.8 L746.5,245.7 L745.7,246.5 L745.0,247.3 L744.3,248.1 L743.6,248.9 L742.9,249.8 L742.3,250.6 L741.6,251.4 L741.1,252.3 L740.5,253.1 L740.0,254.0 L739.6,254.8 L739.2,255.6 L738.8,256.3 L738.5,257.1 L738.2,257.9 L737.9,258.7 L737.6,259.5 L737.4,260.4 L737.1,261.2 L736.9,262.1 L736.7,263.0 L736.5,264.0 L736.2,265.4 L736.0,266.9 L735.8,268.5 L735.6,270.1 L735.5,271.8 L735.4,273.5 L735.3,275.3 L735.2,277.0 L735.2,278.8 L735.2,280.6 L735.2,282.3 L735.3,284.0 L735.4,285.7 L735.5,287.5 L735.7,289.3 L735.8,291.0 L736.1,292.8 L736.3,294.6 L736.6,296.4 L736.9,298.1 L737.2,299.9 L737.6,301.6 L738.0,303.3 L738.5,305.0 L739.0,306.6 L739.5,308.3 L740.0,309.9 L740.6,311.5 L741.2,313.2 L741.8,314.8 L742.5,316.3 L743.2,317.9 L743.9,319.4 L744.7,320.8 L745.6,322.2 L746.5,323.5 L747.4,324.7 L748.4,325.8 L749.4,326.9 L750.5,327.9 L751.7,329.0 L752.8,329.9 L754.0,330.9 L755.2,331.8 L756.4,332.6 L757.6,333.4 L758.8,334.2 L760.0,335.0 L761.1,335.7 L762.1,336.3 L763.2,336.9 L764.2,337.4 L765.3,337.9 L766.3,338.4 L767.4,338.9 L768.5,339.3 L769.7,339.8 L770.8,340.2 L772.1,340.6 L773.3,341.0 L774.9,341.5 L776.6,341.9 L778.3,342.3 L780.1,342.6 L781.9,342.9 L783.8,343.2 L785.7,343.5 L787.5,343.8 L789.4,344.1 L791.3,344.4 L793.2,344.7 L795.0,345.0 L790,350 L740,330 L715,310 L690,262 L655,262 L655.0,247.5 L656.5,247.3 L657.9,247.1 L659.3,246.9 L660.8,246.7 L662.2,246.5 L663.6,246.3 L665.1,246.1 L666.5,245.8 L668.0,245.6 L669.5,245.4 L671.0,245.1 L672.5,244.8 L674.3,244.4 L676.1,244.1 L678.0,243.7 L679.9,243.3 L681.8,242.8 L683.7,242.4 L685.6,241.9 L687.5,241.5 L689.4,241.0 L691.3,240.5 L693.2,240.0 L695.0,239.5 L696.7,239.0 L698.4,238.5 L700.2,238.1 L701.9,237.6 L703.6,237.1 L705.2,236.6 L706.9,236.0 L708.6,235.5 L710.2,234.9 L711.8,234.3 L713.4,233.7 L715.0,233.0 L716.5,232.3 L718.0,231.6 L719.4,230.9 L720.8,230.2 L722.3,229.4 L723.7,228.6 L725.0,227.8 L726.4,227.0 L727.8,226.2 L729.2,225.3 L730.6,224.4 L732.0,223.5 L733.5,222.5 L734.9,221.6 L736.3,220.6 L737.6,219.6 L739.0,218.6 L740.3,217.6 L741.7,216.5 L743.2,215.3 L744.7,214.1 L746.4,212.8 L748.1,211.5 L750.0,210.0 L754.1,206.8 L758.6,203.1 L763.6,199.1 L769.0,194.8 L774.6,190.2 L780.4,185.4 L786.4,180.5 L792.5,175.5 L798.5,170.6 L804.5,165.7 L810.4,160.9 L816.0,156.3 Z" fill="#c4c4c4"/><path d="M690,275 L703.75,263.5 Q712,259 720.4,258.3 Q718.5,268 720.4,279.2 L712,292Z" fill="#ffffff"/><line x1="733.0" y1="238.4" x2="820.5" y2="164.4" stroke="#ffffff" stroke-width="1.1" stroke-dasharray="7.5,4.5"/><path d="M524.8,615.5 L526.2,613.4 L527.6,611.2 L529.0,609.1 L530.5,607.0 L531.9,604.8 L533.4,602.7 L534.8,600.6 L536.2,598.4 L537.5,596.3 L538.9,594.2 L540.1,592.1 L541.3,590.0 L542.3,588.1 L543.4,586.3 L544.4,584.4 L545.3,582.6 L546.3,580.8 L547.2,578.9 L548.1,577.1 L548.9,575.3 L549.7,573.4 L550.4,571.5 L551.1,569.6 L551.7,567.7 L552.2,565.7 L552.7,563.7 L553.2,561.7 L553.6,559.6 L554.0,557.5 L554.3,555.4 L554.5,553.3 L554.7,551.3 L554.9,549.2 L555.0,547.2 L555.0,545.3 L555.0,543.4 L554.9,541.8 L554.9,540.3 L554.7,538.8 L554.6,537.3 L554.4,535.8 L554.2,534.3 L553.9,532.9 L553.5,531.4 L553.2,530.0 L552.7,528.7 L552.2,527.3 L551.7,526.0 L551.1,524.7 L550.4,523.4 L549.7,522.1 L549.0,520.9 L548.2,519.6 L547.3,518.4 L546.4,517.3 L545.5,516.1 L544.5,515.0 L543.5,514.0 L542.4,513.0 L541.3,512.0 L540.1,511.1 L538.8,510.2 L537.4,509.4 L536.0,508.7 L534.6,508.0 L533.1,507.4 L531.5,506.7 L530.0,506.1 L528.5,505.5 L527.0,504.8 L525.5,504.2 L524.0,503.5 L535,490 L570,500 L610,540 L650,545 L650,559 L650.0,559.0 L647.7,559.3 L645.5,559.5 L643.2,559.8 L641.0,560.0 L638.7,560.2 L636.4,560.4 L634.2,560.7 L631.9,561.0 L629.7,561.3 L627.4,561.6 L625.2,562.0 L623.0,562.5 L620.8,563.0 L618.5,563.6 L616.3,564.2 L614.0,564.9 L611.8,565.6 L609.5,566.3 L607.3,567.0 L605.1,567.8 L603.0,568.6 L600.9,569.4 L598.9,570.2 L596.9,571.0 L595.3,571.7 L593.7,572.4 L592.1,573.1 L590.6,573.9 L589.1,574.7 L587.6,575.4 L586.2,576.2 L584.8,577.0 L583.4,577.7 L582.1,578.5 L580.8,579.3 L579.5,580.0 L578.5,580.6 L577.6,581.0 L576.7,581.5 L575.8,582.0 L574.9,582.4 L574.1,582.9 L573.2,583.3 L572.4,583.9 L571.6,584.5 L570.7,585.1 L569.9,585.9 L569.0,586.8 L567.4,588.6 L565.9,590.8 L564.3,593.3 L562.7,596.0 L561.1,598.9 L559.5,602.0 L557.9,605.2 L556.4,608.4 L554.8,611.6 L553.2,614.7 L551.6,617.8 L550.0,620.7 Z" fill="#c4c4c4"/><path d="M579.5,546 Q589,551.5 598.6,555.6 Q586,559.5 576.9,566 Q578.5,556 579.5,546Z" fill="#ffffff"/><path d="M643.5,261.7 L646.3,261.7 L648.6,261.8 L650.7,261.9 L652.8,262.0 L654.8,262.1 L656.7,262.3 L658.6,262.6 L660.4,262.8 L662.3,263.1 L664.0,263.4 L665.8,263.8 L667.5,264.2 L669.2,264.6 L670.9,265.1 L672.6,265.6 L674.3,266.2 L675.9,266.7 L677.5,267.3 L679.1,268.0 L680.7,268.6 L682.3,269.3 L683.8,270.1 L685.3,270.8 L686.9,271.6 L688.4,272.5 L689.9,273.4 L691.3,274.2 L692.8,275.2 L694.3,276.1 L695.7,277.1 L697.1,278.2 L698.5,279.2 L699.9,280.3 L701.3,281.4 L702.6,282.6 L704.0,283.8 L705.3,285.0 L706.6,286.2 L707.9,287.5 L709.2,288.8 L710.5,290.1 L711.7,291.4 L712.9,292.8 L714.1,294.2 L715.3,295.6 L716.5,297.1 L717.6,298.6 L718.8,300.1 L719.9,301.6 L721.0,303.2 L722.0,304.8 L723.1,306.4 L724.1,308.0 L725.1,309.7 L726.0,311.4 L727.0,313.1 L727.9,314.8 L728.7,316.5 L729.6,318.3 L730.4,320.1 L731.2,321.9 L732.0,323.7 L732.7,325.6 L733.4,327.5 L734.1,329.3 L734.7,331.2 L735.3,333.2 L735.9,335.1 L736.4,337.1 L737.0,339.0 L737.4,341.0 L737.9,343.0 L738.3,345.1 L738.7,347.1 L739.0,349.1 L739.3,351.2 L739.6,353.3 L739.8,355.4 L740.1,357.5 L740.2,359.6 L740.4,361.7 L740.5,363.8 L740.5,366.0 L740.5,368.1 L740.5,370.3 L740.5,372.5 L740.4,374.6 L740.3,376.8 L740.2,379.0 L740.0,381.2 L739.8,383.4 L739.6,385.6 L739.4,387.8 L739.2,390.0 L739.0,392.2 L738.7,394.5 L738.5,396.7 L738.3,398.9 L738.0,401.1 L737.8,403.4 L737.6,405.6 L737.5,407.8 L737.3,410.0 L737.2,412.2 L737.0,414.5 L736.9,416.7 L736.8,418.9 L736.6,421.1 L736.5,423.3 L736.4,425.5 L736.2,427.7 L736.1,429.9 L735.9,432.1 L735.8,434.2 L735.6,436.4 L735.4,438.6 L735.3,440.7 L735.1,442.9 L734.9,445.0 L734.7,447.1 L734.4,449.2 L734.2,451.3 L733.9,453.4 L733.6,455.5 L733.3,457.6 L733.0,459.6 L732.6,461.6 L732.2,463.7 L731.7,465.7 L731.3,467.7 L730.7,469.6 L730.2,471.6 L729.6,473.5 L729.0,475.5 L728.4,477.4 L727.7,479.2 L727.0,481.1 L726.3,483.0 L725.5,484.8 L724.7,486.6 L723.9,488.4 L723.0,490.2 L722.2,491.9 L721.3,493.6 L720.3,495.3 L719.4,497.0 L718.4,498.7 L717.4,500.3 L716.3,501.9 L715.3,503.5 L714.2,505.1 L713.1,506.6 L711.9,508.1 L710.8,509.6 L709.6,511.1 L708.4,512.5 L707.2,513.9 L706.0,515.3 L704.8,516.6 L703.5,517.9 L702.2,519.2 L700.9,520.5 L699.6,521.7 L698.3,522.9 L696.9,524.1 L695.6,525.3 L694.2,526.4 L692.8,527.5 L691.4,528.5 L690.0,529.6 L688.6,530.6 L687.1,531.5 L685.6,532.5 L684.2,533.3 L682.7,534.2 L681.2,535.1 L679.6,535.9 L678.1,536.6 L676.6,537.4 L675.0,538.1 L673.4,538.7 L671.8,539.4 L670.2,540.0 L668.6,540.5 L666.9,541.1 L665.2,541.6 L663.5,542.1 L661.8,542.5 L660.1,542.9 L658.3,543.3 L656.6,543.6 L654.7,543.9 L652.9,544.1 L651.0,544.4 L649.1,544.6 L647.1,544.7 L645.0,544.8 L642.9,544.9 L640.6,545.0 L637.8,545.0 L635.0,545.0 L632.7,544.9 L630.6,544.8 L628.5,544.7 L626.5,544.6 L624.6,544.4 L622.7,544.1 L620.9,543.9 L619.0,543.6 L617.3,543.3 L615.5,542.9 L613.8,542.5 L612.1,542.1 L610.4,541.6 L608.7,541.1 L607.0,540.5 L605.4,540.0 L603.8,539.4 L602.2,538.7 L600.6,538.1 L599.0,537.4 L597.5,536.6 L596.0,535.9 L594.4,535.1 L592.9,534.2 L591.4,533.3 L590.0,532.5 L588.5,531.5 L587.0,530.6 L585.6,529.6 L584.2,528.5 L582.8,527.5 L581.4,526.4 L580.0,525.3 L578.7,524.1 L577.3,522.9 L576.0,521.7 L574.7,520.5 L573.4,519.2 L572.1,517.9 L570.8,516.6 L569.6,515.3 L568.4,513.9 L567.2,512.5 L566.0,511.1 L564.8,509.6 L563.7,508.1 L562.5,506.6 L561.4,505.1 L560.3,503.5 L559.3,501.9 L558.2,500.3 L557.2,498.7 L556.2,497.0 L555.3,495.3 L554.3,493.6 L553.4,491.9 L552.6,490.2 L551.7,488.4 L550.9,486.6 L550.1,484.8 L549.3,483.0 L548.6,481.1 L547.9,479.2 L547.2,477.4 L546.6,475.5 L546.0,473.5 L545.4,471.6 L544.9,469.6 L544.3,467.7 L543.9,465.7 L543.4,463.7 L543.0,461.6 L542.6,459.6 L542.3,457.6 L542.0,455.5 L541.7,453.4 L541.5,451.3 L541.3,449.2 L541.1,447.1 L541.0,445.0 L540.9,442.9 L540.9,440.7 L540.9,438.6 L540.9,436.4 L541.0,434.2 L541.1,432.1 L541.2,429.9 L541.3,427.7 L541.5,425.5 L541.7,423.3 L541.9,421.1 L542.1,418.9 L542.4,416.7 L542.6,414.5 L542.9,412.2 L543.1,410.0 L543.3,407.8 L543.6,405.6 L543.8,403.4 L544.0,401.1 L544.1,398.9 L544.3,396.7 L544.4,394.5 L544.6,392.2 L544.7,390.0 L544.8,387.8 L544.9,385.6 L545.0,383.4 L545.2,381.2 L545.3,379.0 L545.4,376.8 L545.5,374.6 L545.7,372.5 L545.8,370.3 L546.0,368.1 L546.1,366.0 L546.3,363.8 L546.5,361.7 L546.7,359.6 L546.9,357.5 L547.2,355.4 L547.4,353.3 L547.7,351.2 L548.0,349.1 L548.3,347.1 L548.7,345.1 L549.1,343.0 L549.6,341.0 L550.0,339.0 L550.6,337.1 L551.1,335.1 L551.7,333.2 L552.3,331.2 L552.9,329.3 L553.6,327.5 L554.3,325.6 L555.0,323.7 L555.8,321.9 L556.6,320.1 L557.4,318.3 L558.3,316.5 L559.1,314.8 L560.0,313.1 L561.0,311.4 L561.9,309.7 L562.9,308.0 L563.9,306.4 L565.0,304.8 L566.0,303.2 L567.1,301.6 L568.2,300.1 L569.4,298.6 L570.5,297.1 L571.7,295.6 L572.9,294.2 L574.1,292.8 L575.3,291.4 L576.5,290.1 L577.8,288.8 L579.1,287.5 L580.4,286.2 L581.7,285.0 L583.0,283.8 L584.4,282.6 L585.7,281.4 L587.1,280.3 L588.5,279.2 L589.9,278.2 L591.3,277.1 L592.7,276.1 L594.2,275.2 L595.7,274.2 L597.1,273.4 L598.6,272.5 L600.1,271.6 L601.7,270.8 L603.2,270.1 L604.7,269.3 L606.3,268.6 L607.9,268.0 L609.5,267.3 L611.1,266.7 L612.7,266.2 L614.4,265.6 L616.1,265.1 L617.8,264.6 L619.5,264.2 L621.2,263.8 L623.0,263.4 L624.7,263.1 L626.6,262.8 L628.4,262.6 L630.3,262.3 L632.2,262.1 L634.2,262.0 L636.3,261.9 L638.4,261.8 L640.7,261.7Z" fill="none" stroke="#c4c4c4" stroke-width="31.3"/><path d="M643.5,261.7 L646.3,261.7 L648.6,261.8 L650.7,261.9 L652.8,262.0 L654.8,262.1 L656.7,262.3 L658.6,262.6 L660.4,262.8 L662.3,263.1 L664.0,263.4 L665.8,263.8 L667.5,264.2 L669.2,264.6 L670.9,265.1 L672.6,265.6 L674.3,266.2 L675.9,266.7 L677.5,267.3 L679.1,268.0 L680.7,268.6 L682.3,269.3 L683.8,270.1 L685.3,270.8 L686.9,271.6 L688.4,272.5 L689.9,273.4 L691.3,274.2 L692.8,275.2 L694.3,276.1 L695.7,277.1 L697.1,278.2 L698.5,279.2 L699.9,280.3 L701.3,281.4 L702.6,282.6 L704.0,283.8 L705.3,285.0 L706.6,286.2 L707.9,287.5 L709.2,288.8 L710.5,290.1 L711.7,291.4 L712.9,292.8 L714.1,294.2 L715.3,295.6 L716.5,297.1 L717.6,298.6 L718.8,300.1 L719.9,301.6 L721.0,303.2 L722.0,304.8 L723.1,306.4 L724.1,308.0 L725.1,309.7 L726.0,311.4 L727.0,313.1 L727.9,314.8 L728.7,316.5 L729.6,318.3 L730.4,320.1 L731.2,321.9 L732.0,323.7 L732.7,325.6 L733.4,327.5 L734.1,329.3 L734.7,331.2 L735.3,333.2 L735.9,335.1 L736.4,337.1 L737.0,339.0 L737.4,341.0 L737.9,343.0 L738.3,345.1 L738.7,347.1 L739.0,349.1 L739.3,351.2 L739.6,353.3 L739.8,355.4 L740.1,357.5 L740.2,359.6 L740.4,361.7 L740.5,363.8 L740.5,366.0 L740.5,368.1 L740.5,370.3 L740.5,372.5 L740.4,374.6 L740.3,376.8 L740.2,379.0 L740.0,381.2 L739.8,383.4 L739.6,385.6 L739.4,387.8 L739.2,390.0 L739.0,392.2 L738.7,394.5 L738.5,396.7 L738.3,398.9 L738.0,401.1 L737.8,403.4 L737.6,405.6 L737.5,407.8 L737.3,410.0 L737.2,412.2 L737.0,414.5 L736.9,416.7 L736.8,418.9 L736.6,421.1 L736.5,423.3 L736.4,425.5 L736.2,427.7 L736.1,429.9 L735.9,432.1 L735.8,434.2 L735.6,436.4 L735.4,438.6 L735.3,440.7 L735.1,442.9 L734.9,445.0 L734.7,447.1 L734.4,449.2 L734.2,451.3 L733.9,453.4 L733.6,455.5 L733.3,457.6 L733.0,459.6 L732.6,461.6 L732.2,463.7 L731.7,465.7 L731.3,467.7 L730.7,469.6 L730.2,471.6 L729.6,473.5 L729.0,475.5 L728.4,477.4 L727.7,479.2 L727.0,481.1 L726.3,483.0 L725.5,484.8 L724.7,486.6 L723.9,488.4 L723.0,490.2 L722.2,491.9 L721.3,493.6 L720.3,495.3 L719.4,497.0 L718.4,498.7 L717.4,500.3 L716.3,501.9 L715.3,503.5 L714.2,505.1 L713.1,506.6 L711.9,508.1 L710.8,509.6 L709.6,511.1 L708.4,512.5 L707.2,513.9 L706.0,515.3 L704.8,516.6 L703.5,517.9 L702.2,519.2 L700.9,520.5 L699.6,521.7 L698.3,522.9 L696.9,524.1 L695.6,525.3 L694.2,526.4 L692.8,527.5 L691.4,528.5 L690.0,529.6 L688.6,530.6 L687.1,531.5 L685.6,532.5 L684.2,533.3 L682.7,534.2 L681.2,535.1 L679.6,535.9 L678.1,536.6 L676.6,537.4 L675.0,538.1 L673.4,538.7 L671.8,539.4 L670.2,540.0 L668.6,540.5 L666.9,541.1 L665.2,541.6 L663.5,542.1 L661.8,542.5 L660.1,542.9 L658.3,543.3 L656.6,543.6 L654.7,543.9 L652.9,544.1 L651.0,544.4 L649.1,544.6 L647.1,544.7 L645.0,544.8 L642.9,544.9 L640.6,545.0 L637.8,545.0 L635.0,545.0 L632.7,544.9 L630.6,544.8 L628.5,544.7 L626.5,544.6 L624.6,544.4 L622.7,544.1 L620.9,543.9 L619.0,543.6 L617.3,543.3 L615.5,542.9 L613.8,542.5 L612.1,542.1 L610.4,541.6 L608.7,541.1 L607.0,540.5 L605.4,540.0 L603.8,539.4 L602.2,538.7 L600.6,538.1 L599.0,537.4 L597.5,536.6 L596.0,535.9 L594.4,535.1 L592.9,534.2 L591.4,533.3 L590.0,532.5 L588.5,531.5 L587.0,530.6 L585.6,529.6 L584.2,528.5 L582.8,527.5 L581.4,526.4 L580.0,525.3 L578.7,524.1 L577.3,522.9 L576.0,521.7 L574.7,520.5 L573.4,519.2 L572.1,517.9 L570.8,516.6 L569.6,515.3 L568.4,513.9 L567.2,512.5 L566.0,511.1 L564.8,509.6 L563.7,508.1 L562.5,506.6 L561.4,505.1 L560.3,503.5 L559.3,501.9 L558.2,500.3 L557.2,498.7 L556.2,497.0 L555.3,495.3 L554.3,493.6 L553.4,491.9 L552.6,490.2 L551.7,488.4 L550.9,486.6 L550.1,484.8 L549.3,483.0 L548.6,481.1 L547.9,479.2 L547.2,477.4 L546.6,475.5 L546.0,473.5 L545.4,471.6 L544.9,469.6 L544.3,467.7 L543.9,465.7 L543.4,463.7 L543.0,461.6 L542.6,459.6 L542.3,457.6 L542.0,455.5 L541.7,453.4 L541.5,451.3 L541.3,449.2 L541.1,447.1 L541.0,445.0 L540.9,442.9 L540.9,440.7 L540.9,438.6 L540.9,436.4 L541.0,434.2 L541.1,432.1 L541.2,429.9 L541.3,427.7 L541.5,425.5 L541.7,423.3 L541.9,421.1 L542.1,418.9 L542.4,416.7 L542.6,414.5 L542.9,412.2 L543.1,410.0 L543.3,407.8 L543.6,405.6 L543.8,403.4 L544.0,401.1 L544.1,398.9 L544.3,396.7 L544.4,394.5 L544.6,392.2 L544.7,390.0 L544.8,387.8 L544.9,385.6 L545.0,383.4 L545.2,381.2 L545.3,379.0 L545.4,376.8 L545.5,374.6 L545.7,372.5 L545.8,370.3 L546.0,368.1 L546.1,366.0 L546.3,363.8 L546.5,361.7 L546.7,359.6 L546.9,357.5 L547.2,355.4 L547.4,353.3 L547.7,351.2 L548.0,349.1 L548.3,347.1 L548.7,345.1 L549.1,343.0 L549.6,341.0 L550.0,339.0 L550.6,337.1 L551.1,335.1 L551.7,333.2 L552.3,331.2 L552.9,329.3 L553.6,327.5 L554.3,325.6 L555.0,323.7 L555.8,321.9 L556.6,320.1 L557.4,318.3 L558.3,316.5 L559.1,314.8 L560.0,313.1 L561.0,311.4 L561.9,309.7 L562.9,308.0 L563.9,306.4 L565.0,304.8 L566.0,303.2 L567.1,301.6 L568.2,300.1 L569.4,298.6 L570.5,297.1 L571.7,295.6 L572.9,294.2 L574.1,292.8 L575.3,291.4 L576.5,290.1 L577.8,288.8 L579.1,287.5 L580.4,286.2 L581.7,285.0 L583.0,283.8 L584.4,282.6 L585.7,281.4 L587.1,280.3 L588.5,279.2 L589.9,278.2 L591.3,277.1 L592.7,276.1 L594.2,275.2 L595.7,274.2 L597.1,273.4 L598.6,272.5 L600.1,271.6 L601.7,270.8 L603.2,270.1 L604.7,269.3 L606.3,268.6 L607.9,268.0 L609.5,267.3 L611.1,266.7 L612.7,266.2 L614.4,265.6 L616.1,265.1 L617.8,264.6 L619.5,264.2 L621.2,263.8 L623.0,263.4 L624.7,263.1 L626.6,262.8 L628.4,262.6 L630.3,262.3 L632.2,262.1 L634.2,262.0 L636.3,261.9 L638.4,261.8 L640.7,261.7Z" fill="none" stroke="#ffffff" stroke-width="1.1" stroke-dasharray="6,5"/><line x1="626.0" y1="247.0" x2="664.0" y2="247.0" stroke="#ffffff" stroke-width="1.0" stroke-dasharray="3,2"/><line x1="549.0" y1="298.0" x2="535.0" y2="339.0" stroke="#ffffff" stroke-width="1.0" stroke-dasharray="3,2"/><line x1="548.0" y1="522.6" x2="577.7" y2="546.0" stroke="#ffffff" stroke-width="1.0" stroke-dasharray="3,2"/><line x1="737.0" y1="500.0" x2="719.4" y2="526.0" stroke="#ffffff" stroke-width="1.0" stroke-dasharray="3,2"/><line x1="718.0" y1="278.0" x2="735.0" y2="302.0" stroke="#ffffff" stroke-width="1.0" stroke-dasharray="3,2"/><g><rect x="632.5" y="252.4" width="13.0" height="5.5" rx="2" fill="#3a3a3a"/><rect x="636.4" y="253.6" width="5.2" height="3.1" fill="#222" opacity="0.55"/></g><g><rect x="536.5" y="361.5" width="7.0" height="13.0" rx="2" fill="#b5383b"/><rect x="538.6" y="362.7" width="2.8" height="10.6" fill="#222" opacity="0.55"/></g>
<line x1="213.5" y1="326.5" x2="180.7" y2="377.5" stroke="#000" stroke-width="1.5"/><path d="M177.5,382.5 L178.6,376.0 L182.9,378.9Z" fill="#000"/><line x1="333.8" y1="320.5" x2="273.8" y2="394.1" stroke="#000" stroke-width="1.5"/><path d="M270.0,398.8 L271.8,392.5 L275.8,395.8Z" fill="#000"/><line x1="435.0" y1="306.5" x2="416.5" y2="378.2" stroke="#000" stroke-width="1.5"/><path d="M415.0,384.0 L414.0,377.5 L419.0,378.8Z" fill="#000"/><line x1="945.3" y1="300.5" x2="921.9" y2="352.0" stroke="#000" stroke-width="1.5"/><path d="M919.4,357.5 L919.5,351.0 L924.2,353.1Z" fill="#000"/><line x1="1040.5" y1="333.5" x2="973.2" y2="367.3" stroke="#000" stroke-width="1.5"/><path d="M967.8,370.0 L972.0,365.0 L974.3,369.6Z" fill="#000"/><line x1="1040.5" y1="333.5" x2="1083.7" y2="378.9" stroke="#000" stroke-width="1.5"/><path d="M1087.8,383.3 L1081.8,380.7 L1085.6,377.2Z" fill="#000"/><line x1="355.7" y1="510.5" x2="402.3" y2="419.1" stroke="#000" stroke-width="1.5"/><path d="M405.0,413.8 L404.6,420.3 L400.0,418.0Z" fill="#000"/><line x1="770.4" y1="531.5" x2="675.7" y2="423.7" stroke="#000" stroke-width="1.5"/><path d="M671.7,419.2 L677.6,422.0 L673.7,425.4Z" fill="#000"/><line x1="1027.5" y1="480.3" x2="1027.5" y2="414.0" stroke="#000" stroke-width="1.5"/><path d="M1027.5,408.0 L1030.1,414.0 L1024.9,414.0Z" fill="#000"/><rect x="162.5" y="292.3" width="102.2" height="33.9" fill="#fff" stroke="#222" stroke-width="1.0"/><text x="166.0" y="301.2" font-size="7.2" fill="#111" stroke="#111" stroke-width="0.12" textLength="93.6" lengthAdjust="spacingAndGlyphs">Advanced signing will advise all</text><text x="166.0" y="310.3" font-size="7.2" fill="#111" stroke="#111" stroke-width="0.12" textLength="84.6" lengthAdjust="spacingAndGlyphs">vehicles &gt;7.5T to exit via slip</text><text x="166.0" y="319.4" font-size="7.2" fill="#111" stroke="#111" stroke-width="0.12" textLength="77.6" lengthAdjust="spacingAndGlyphs">road and rejoin via on slip.</text><rect x="290.6" y="297.5" width="87.1" height="22.7" fill="#fff" stroke="#222" stroke-width="1.0"/><text x="294.0" y="305.8" font-size="7.2" fill="#111" stroke="#111" stroke-width="0.12" textLength="70.9" lengthAdjust="spacingAndGlyphs">Existing taper diverge to</text><text x="294.0" y="315.4" font-size="7.2" fill="#111" stroke="#111" stroke-width="0.12" textLength="76.8" lengthAdjust="spacingAndGlyphs">be upgraded to lane drop.</text><rect x="397.4" y="284.4" width="75.2" height="22.0" fill="#fff" stroke="#222" stroke-width="1.0"/><text x="401.2" y="292.5" font-size="7.2" fill="#111" stroke="#111" stroke-width="0.12" textLength="53.6" lengthAdjust="spacingAndGlyphs">Technology site to</text><text x="401.2" y="301.3" font-size="7.2" fill="#111" stroke="#111" stroke-width="0.12" textLength="65.6" lengthAdjust="spacingAndGlyphs">monitor vehicle flows.</text><rect x="903.4" y="268.4" width="84.1" height="32.0" fill="#fff" stroke="#222" stroke-width="1.0"/><text x="907.2" y="277.0" font-size="7.2" fill="#111" stroke="#111" stroke-width="0.12" textLength="53.6" lengthAdjust="spacingAndGlyphs">Traffic signals will</text><text x="907.2" y="286.0" font-size="7.2" fill="#111" stroke="#111" stroke-width="0.12" textLength="55.4" lengthAdjust="spacingAndGlyphs">regulate flow of all</text><text x="907.2" y="295.0" font-size="7.2" fill="#111" stroke="#111" stroke-width="0.12" textLength="73.0" lengthAdjust="spacingAndGlyphs">vehicles onto the bridge.</text><rect x="1002.4" y="301.1" width="76.5" height="32.3" fill="#fff" stroke="#222" stroke-width="1.0"/><text x="1006.5" y="309.7" font-size="7.2" fill="#111" stroke="#111" stroke-width="0.12" textLength="59.0" lengthAdjust="spacingAndGlyphs">Technology sites on</text><text x="1006.5" y="318.7" font-size="7.2" fill="#111" stroke="#111" stroke-width="0.12" textLength="61.2" lengthAdjust="spacingAndGlyphs">and after slip road to</text><text x="1006.5" y="327.7" font-size="7.2" fill="#111" stroke="#111" stroke-width="0.12" textLength="65.8" lengthAdjust="spacingAndGlyphs">monitor vehicle flows.</text><rect x="317.4" y="510.4" width="77.0" height="24.1" fill="#fff" stroke="#222" stroke-width="1.0"/><text x="320.9" y="518.8" font-size="7.2" fill="#111" stroke="#111" stroke-width="0.12" textLength="55.5" lengthAdjust="spacingAndGlyphs">Ban on all vehicles</text><text x="320.9" y="528.0" font-size="7.2" fill="#111" stroke="#111" stroke-width="0.12" textLength="68.5" lengthAdjust="spacingAndGlyphs">&gt;7.5T through junction.</text><rect x="725.3" y="531.4" width="91.1" height="22.1" fill="#fff" stroke="#222" stroke-width="1.0"/><text x="729.0" y="540.0" font-size="7.2" fill="#111" stroke="#111" stroke-width="0.12" textLength="57.6" lengthAdjust="spacingAndGlyphs">Single lane through</text><text x="729.0" y="549.0" font-size="7.2" fill="#111" stroke="#111" stroke-width="0.12" textLength="81.4" lengthAdjust="spacingAndGlyphs">junction for vehicles&#160; &lt;7.5T.</text><rect x="991.4" y="480.3" width="73.3" height="23.3" fill="#fff" stroke="#222" stroke-width="1.0"/><text x="995.0" y="488.8" font-size="7.2" fill="#111" stroke="#111" stroke-width="0.12" textLength="57.3" lengthAdjust="spacingAndGlyphs">Lane gain for traffic</text><text x="995.0" y="498.1" font-size="7.2" fill="#111" stroke="#111" stroke-width="0.12" textLength="64.6" lengthAdjust="spacingAndGlyphs">joining from slip road.</text><rect x="550.5" y="173.4" width="31" height="16" fill="#4a9e2a" stroke="#e8e83a" stroke-width="1"/><text x="555.3" y="184.9" font-size="8.8" fill="#e8ec3c" textLength="21.5" lengthAdjust="spacingAndGlyphs">A466</text><rect x="814" y="189.7" width="69.5" height="16.3" fill="#fff" stroke="#000" stroke-width="1.6"/><text x="817.6" y="201.1" font-size="8.8" font-weight="bold" fill="#000" textLength="60.6" lengthAdjust="spacingAndGlyphs">Conway Drive</text><rect x="611.2" y="345" width="56.6" height="20.3" fill="#1d6590"/><text x="614.3" y="359" font-size="10.6" font-weight="bold" fill="#f2fbff" textLength="48.4" lengthAdjust="spacingAndGlyphs">M48 Jct 2</text><rect x="936" y="341" width="8" height="19.5" fill="#1a1a1a"/><circle cx="940" cy="345.3" r="1.9" fill="#c44"/><circle cx="940" cy="350.7" r="1.9" fill="#555"/><circle cx="940" cy="356" r="1.9" fill="#555"/><line x1="915.5" y1="358.0" x2="910.0" y2="387.0" stroke="#ffffff" stroke-width="1.6"/><path d="M916,357 L920,359.5 L916,362Z" fill="#000"/><circle cx="921" cy="360" r="1.9" fill="#000"/><path d="M909,383 L913,385.5 L909,388Z" fill="#000"/><circle cx="914" cy="386.5" r="1.9" fill="#000"/><rect x="166.5" y="379.5" width="3" height="9.5" fill="#4a8fcc"/><circle cx="174.5" cy="384.5" r="3" fill="#4a8fcc"/>
<!-- logo -->
<g>
<path d="M1076.9,634.8 L1084.4,636.3 L1078.1,639.4Z" fill="#1f2a5c"/>
<path d="M1068.75,643.4 L1088.75,646.6 L1080,653 L1068.1,653.4Z" fill="#1f2a5c"/>
<path d="M1068.75,643.2 L1084.4,636.3 L1089.1,646.6 L1068.75,643.5Z" fill="#1e8fd6"/>
<path d="M1067.5,657.8 L1094.7,660 L1082,671 L1066.25,670.6Z" fill="#1f2a5c"/>
<path d="M1068.1,657.5 L1088.75,646.6 L1094.7,660 L1067.5,657.8Z" fill="#1e8fd6"/>
<path d="M1046.5,689.9 L1094.7,660 L1099.6,669.3 L1075.4,686.7Z" fill="#1e8fd6"/>
</g>
<text x="1105" y="657.6" font-size="28" fill="#1f2a5a" textLength="108" lengthAdjust="spacingAndGlyphs">national</text>
<text x="1105" y="682.2" font-size="27.5" font-weight="bold" fill="#1f2a5a" textLength="134.8" lengthAdjust="spacingAndGlyphs">highways</text>
</svg>
</body></html>
